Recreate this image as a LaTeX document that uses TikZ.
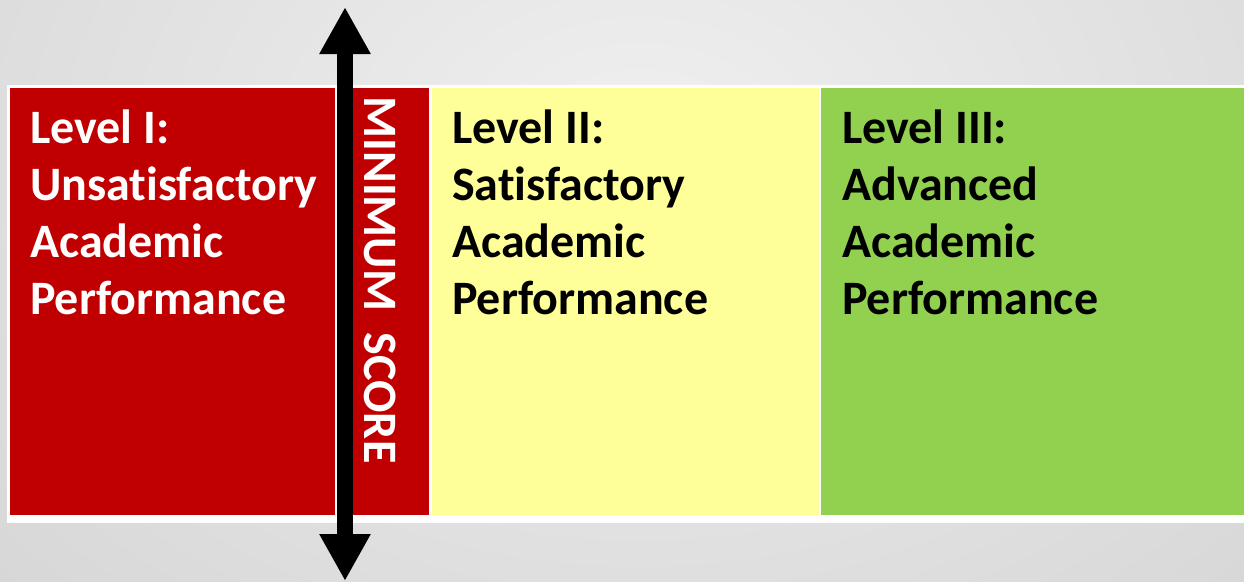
\documentclass[tikz,border=0pt]{standalone}
\usepackage{fontspec}
\setmainfont{Carlito}[Ligatures=NoCommon]
\usetikzlibrary{arrows.meta}
\definecolor{lvlred}{HTML}{C00000}
\definecolor{lvlyellow}{HTML}{FFFF99}
\definecolor{lvlgreen}{HTML}{92D050}

\begin{document}
\begin{tikzpicture}[x=1pt,y=-1pt,
  leveltext/.style={anchor=north west,inner sep=0pt,align=left,font=\fontsize{48}{57}\selectfont\bfseries},
  scoretip/.tip={Triangle[width=48pt,length=47pt]}]
  \useasboundingbox (0,0) rectangle (1244,581);
  % grey background
  \begin{scope}
    \clip (0,0) rectangle (1244,581);
    \shade[inner color=black!6,outer color=black!28] (640,150) ellipse (2000 and 1440);
  \end{scope}
  \path[fill=white] (7,85) rectangle (1244,523);
  % the three levels
  \path[fill=lvlred] (10,88) rectangle (335,515);
  \path[fill=lvlred] (337,88) rectangle (429,515);
  \path[fill=lvlyellow] (432,88) rectangle (819,515);
  \path[fill=lvlgreen] (821,88) rectangle (1244,515);

  \node[leveltext,text=white] (lvlone) at (30,110) {Level I:\\Unsatisfactory\\Academic\\Performance};
  \node[leveltext,text=black] (lvltwo) at (452,110) {Level II:\\Satisfactory\\Academic\\Performance};
  \node[leveltext,text=black] (lvlthree) at (842,110) {Level III:\\Advanced\\Academic\\Performance};

  % minimum score
  \node[rotate=-90,text=white,inner sep=0pt,font=\fontsize{48}{48}\selectfont\bfseries] (minscore) at (380,280) {MINIMUM\ \ SCORE};
  \coordinate (scoretop) at (345,7);
  \coordinate (scorebot) at (345,581);
  \draw[line width=16pt,scoretip-scoretip] (scorebot) -- (scoretop);
\end{tikzpicture}
\end{document}
